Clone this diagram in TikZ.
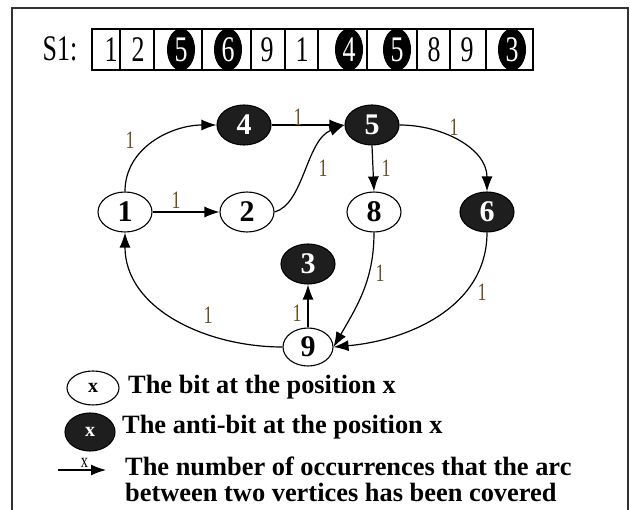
\documentclass[tikz,border=0pt]{standalone}
\usepackage{fontspec}
\setmainfont{Liberation Serif}
\newfontfamily\narrowserif[FakeStretch=0.72]{Liberation Serif}
\usetikzlibrary{shapes.geometric,arrows.meta}
\definecolor{labelc}{RGB}{110,78,34}
\definecolor{darkfill}{RGB}{30,30,30}
\begin{document}
\begin{tikzpicture}[x=1pt,y=1pt,
  vert/.style={ellipse, draw, line width=1.1pt, minimum width=54pt, minimum height=40pt,
    inner sep=0pt, font=\bfseries\fontsize{30}{30}\selectfont},
  bit/.style={vert, fill=white, text=black},
  antibit/.style={vert, fill=darkfill, text=white},
  arc/.style={line width=1.2pt, -{Latex[length=15pt,width=11pt]}},
  cnt/.style={font=\narrowserif\fontsize{25}{25}\selectfont, text=labelc, inner sep=0pt},
  cell/.style={draw, line width=1.1pt, minimum height=41pt, inner sep=0pt},
  seqd/.style={font=\narrowserif\fontsize{36}{36}\selectfont, inner sep=0pt},
  seqdark/.style={ellipse, fill=black, text=white, minimum width=28pt, minimum height=42pt,
    inner sep=0pt, font=\narrowserif\fontsize{36}{36}\selectfont},
  legend/.style={anchor=west, inner sep=0pt, font=\bfseries\fontsize{26.4}{26.4}\selectfont}
]
\useasboundingbox (0,0) rectangle (630,-510);

% outer frame
\draw[line width=1.2pt, black!80] (12,-520) -- (12,-8) -- (628,-8) -- (628,-520);

% the sequence S1
\node[seqd] (s1) at (60,-49) {S1:};
\node[seqdark] (d1) at (181,-49.5) {5};
\node[seqdark] (d2) at (228,-49.5) {6};
\node[seqdark] (d3) at (349,-49.5) {4};
\node[seqdark] (d4) at (397,-49.5) {5};
\node[seqdark] (d5) at (512,-49.5) {3};
\foreach \l/\r [count=\i] in {92/120,120/154,154/202,202/251,251/285,285/318,318/367,367/417,417/450,450/486,486/533}
  \node[cell, minimum width={(\r-\l)*1pt}] (c\i) at ({(\l+\r)/2},-49.5) {};
\node[seqd] (p1) at (111,-49.5) {1};
\node[seqd] (p2) at (138,-49.5) {2};
\node[seqd] (p3) at (267,-49.5) {9};
\node[seqd] (p4) at (302,-49.5) {1};
\node[seqd] (p5) at (434,-49.5) {8};
\node[seqd] (p6) at (467,-49.5) {9};

% vertices
\node[bit]     (n1) at (125,-212) {1};
\node[bit]     (n2) at (247,-212) {2};
\node[antibit] (n4) at (244,-125) {4};
\node[antibit] (n5) at (372,-125) {5};
\node[bit]     (n8) at (374,-212) {8};
\node[antibit] (n6) at (487,-212) {6};
\node[antibit] (n3) at (308,-264) {3};
\node[bit, minimum width=50pt, minimum height=38pt] (n9) at (308,-347) {9};

% arcs
\draw[arc] (n1.north) to[out=90,in=180] (n4.west);
\draw[arc] (n1) -- (n2);
\draw[arc] (n4) -- (n5);
\draw[arc] (n2.east) .. controls (304,-204) and (306,-140) .. (n5.west);
\draw[arc] (n5.south) -- (n8.north);
\draw[arc] (n5.east) to[out=0,in=90] (n6.north);
\draw[arc] (n8.south) to[out=-90,in=60] (n9.east);
\draw[arc] (n6.south) to[out=-90,in=5] (n9.east);
\draw[arc] (n9.west) to[out=180,in=-90] (n1.south);
\draw[arc] (n9) -- (n3);

% arc counters
\node[cnt] (l14) at (130,-140) {1};
\node[cnt] (l12) at (176,-200) {1};
\node[cnt] (l45) at (298,-117) {1};
\node[cnt] (l25) at (323,-168) {1};
\node[cnt] (l58) at (386,-168) {1};
\node[cnt] (l56) at (454,-127) {1};
\node[cnt] (l89) at (380,-273) {1};
\node[cnt] (l69) at (482,-292) {1};
\node[cnt] (l91) at (208,-315) {1};
\node[cnt] (l93) at (297,-313) {1};

% legend
\node[bit, minimum width=52pt, minimum height=34pt, font=\bfseries\fontsize{20}{20}\selectfont] (kb) at (93,-388) {x};
\node[legend] (tb) at (128,-387) {The bit at the position x};
\node[antibit, minimum width=50pt, minimum height=38pt, font=\bfseries\fontsize{20}{20}\selectfont] (ka) at (90,-432) {x};
\node[legend] (ta) at (122,-427) {The anti-bit at the position x};
\coordinate (ks) at (58,-470);
\coordinate (ke) at (106,-470);
\draw[arc] (ks) -- node[cnt, text=black, font=\narrowserif\fontsize{20}{20}\selectfont, above=2pt, pos=0.55] (kx) {x} (ke);
\node[legend] (tn1) at (125,-466) {The number of occurrences that the arc};
\node[legend] (tn2) at (125,-492) {between two vertices has been covered};
\end{tikzpicture}
\end{document}
